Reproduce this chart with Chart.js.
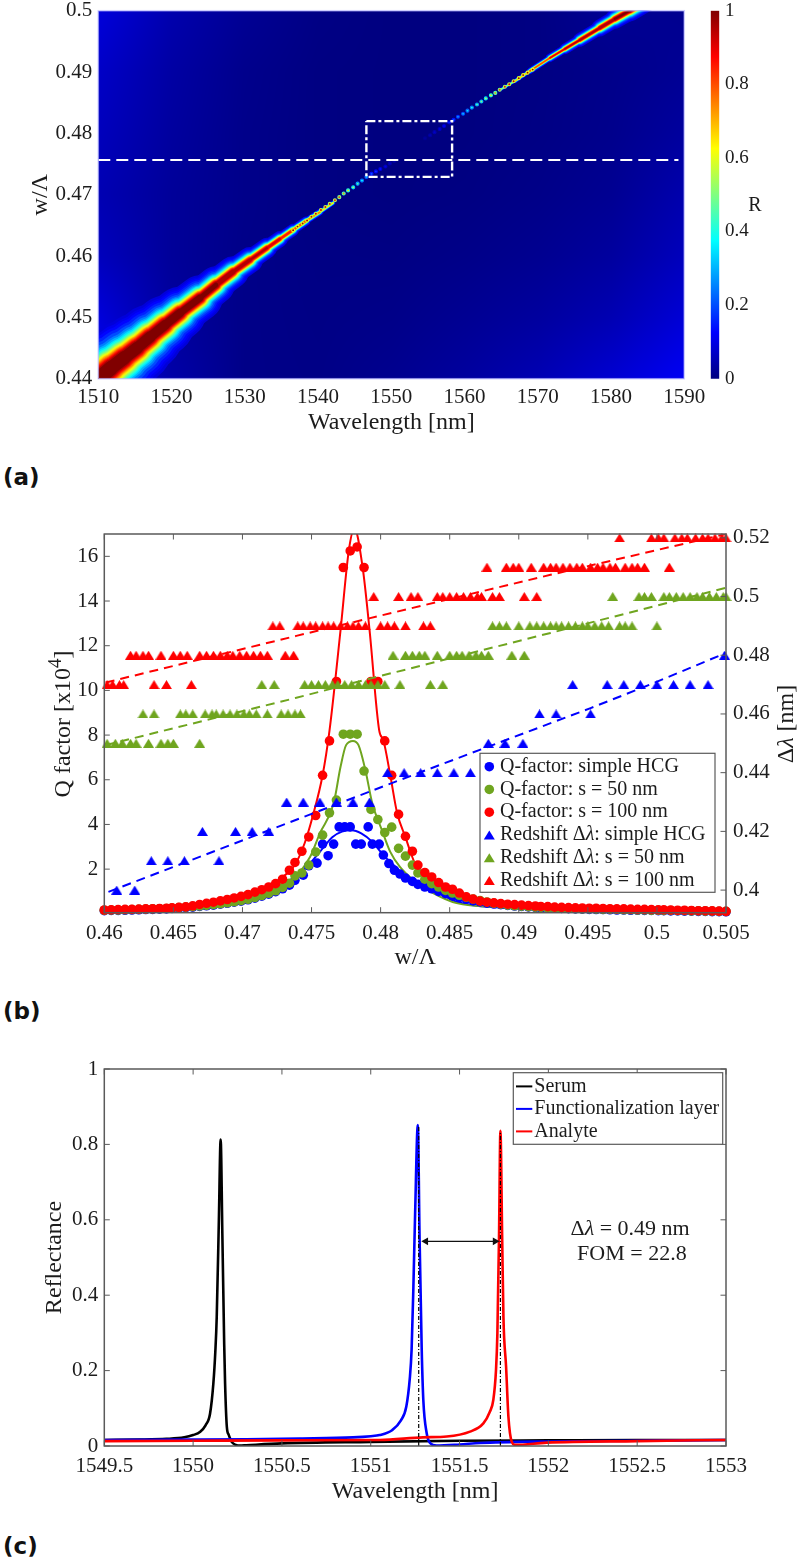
<!DOCTYPE html>
<html><head><meta charset="utf-8">
<script src="https://cdn.jsdelivr.net/npm/chart.js@4/dist/chart.umd.min.js"></script>
<style>
html,body{margin:0;padding:0;background:#fff;width:802px;height:1564px;overflow:hidden;position:relative}
canvas{position:absolute}
.tag{position:absolute;left:3px;font:bold 23px "DejaVu Sans",sans-serif;color:#111;line-height:28px}
</style></head>
<body>
<canvas id="heat" width="720" height="460" style="left:0;top:-20px"></canvas>
<canvas id="cbar" width="112" height="460" style="left:690px;top:-20px"></canvas>
<canvas id="qfac" width="802" height="470" style="left:0;top:510px"></canvas>
<canvas id="refl" width="802" height="470" style="left:0;top:1050px"></canvas>
<div class="tag" style="top:463px">(a)</div>
<div class="tag" style="top:997px">(b)</div>
<div class="tag" style="top:1532px">(c)</div>
<script>
// ---------- panel (a) ----------
const heatXTicks=[1510,1520,1530,1540,1550,1560,1570,1580,1590];
const heatXLabels=['1510','1520','1530','1540','1550','1560','1570','1580','1590'];
const heatYTicks=[0.44,0.45,0.46,0.47,0.48,0.49,0.5];
const heatYLabels=['0.44','0.45','0.46','0.47','0.48','0.49','0.5'];
const cbarTicks=[0,0.2,0.4,0.6,0.8,1];
const cbarLabels=['0','0.2','0.4','0.6','0.8','1'];
// background reflectance, rows are w/Λ (top to bottom), columns are wavelength
const bgWavelengths=[1510,1520,1530,1540,1550,1560,1570,1580,1590];
const bgRows=[0.5,0.49,0.48,0.47,0.46,0.45,0.44];
const bgGrid=[
 [.09,.045,.02,.005,0,0,.003,.02,.015],
 [.07,.035,.012,.002,0,0,.003,.01,.02],
 [.06,.03,.01,.002,0,0,.004,.012,.03],
 [.05,.025,.01,.002,0,.002,.008,.018,.045],
 [.06,.025,.008,.004,.003,.008,.016,.03,.06],
 [.09,.03,.008,.005,.008,.018,.03,.05,.085],
 [.12,.04,.008,.006,.015,.03,.05,.08,.115]];
// resonance ridge: centre, line width and peak height at each station
const ridgeLam=[1508.18,1510,1511.73,1513.51,1515.28,1517.06,1519.1,1521.15,1523.88,1526.07,1528.39,1530.71,1533.03,1534.8,1536.58,1538.35,1540.27,1542.04,1550,1564.84,1566.9,1568.92,1571.65,1573.69,1575.74,1578.47,1580.52,1582.57,1584.6];
const ridgeW=[.43832,.43995,.44174,.44338,.44501,.4468,.44876,.45071,.45316,.45528,.4574,.45935,.46131,.46278,.46425,.46571,.46718,.46865,.475,.48708,.48854,.49017,.4923,.49377,.49523,.49719,.49865,.5,.5014];
const ridgeFwhm=[33,33,31,29,27,25,22,20,16.5,14,12,9.5,7.5,6,4.5,3.5,2.5,1.8,0,1.2,1.6,2.2,3.2,4,5,6.5,7.5,8.5,9];
const ridgePeak=[1.12,1.12,1.12,1.12,1.1,1.1,1.1,1.08,1.06,1.03,1,.98,.96,.93,.9,.85,.8,.7,0,.6,.75,.85,.92,.96,.98,1,1.02,1.03,1.03];
const ridgeLevels=[.09,.11,.13,.16,.2,.25,.3,.35,.4,.45,.5,.55,.6,.65,.7,.75,.8,.85,.9,.95,1];
// aliased dots along the narrowest part of the resonance
const dotLam=[1536.6,1537.2,1537.9,1538.5,1539.1,1539.7,1540.4,1541,1541.6,1542.3,1542.9,1543.5,1544.1,1544.8,1545.4,1546,1546.6,1547.3,1547.9,1548.5,1549.2,1549.8,1550.4,1554.6,1555.3,1555.9,1556.6,1557.2,1557.9,1558.5,1559.1,1559.8,1560.4,1561,1561.7,1562.3,1562.9,1563.6,1564.2,1564.8,1565.5,1566.1,1566.7,1567.4,1568,1568.6,1569.3];
const dotW=[.4642,.4648,.4653,.4658,.4664,.4669,.4675,.468,.4685,.4691,.4696,.4702,.4707,.4712,.4718,.4723,.4729,.4734,.4738,.4742,.4746,.4751,.4755,.4792,.4797,.4802,.4807,.4812,.4818,.4822,.4827,.4832,.4837,.4842,.4847,.4852,.4857,.4862,.4866,.4871,.4876,.488,.4885,.489,.4895,.4899,.4904];
const dotR=[.97,.97,.95,.95,.93,.92,.92,.9,.88,.85,.8,.72,.65,.55,.45,.38,.32,.22,.18,.14,.1,.07,.05,.03,.05,.07,.09,.12,.16,.22,.27,.31,.35,.4,.45,.5,.56,.65,.72,.8,.85,.9,.93,.95,.96,.97,.97];
const cutLam=[1510,1589.2];
const cutW=[.47566,.47566];
const boxLam=[1546.6,1558.3,1558.3,1546.6,1546.6];
const boxW=[.482,.482,.4729,.4729,.482];

// ---------- panel (b) ----------
const qXTicks=[.46,.465,.47,.475,.48,.485,.49,.495,.5,.505];
const qXLabels=['0.46','0.465','0.47','0.475','0.48','0.485','0.49','0.495','0.5','0.505'];
const qYTicks=[2,4,6,8,10,12,14,16];
const qYLabels=['2','4','6','8','10','12','14','16'];
const shiftTicks=[.4,.42,.44,.46,.48,.5,.52];
const shiftLabels=['0.4','0.42','0.44','0.46','0.48','0.5','0.52'];
const qGrid=[.46,.4605,.461,.4615,.462,.4625,.463,.4635,.464,.4645,.4649,.4654,.4659,.4664,.4669,.4674,.4679,.4684,.4689,.4694,.4699,.4704,.4709,.4714,.4719,.4724,.4729,.4734,.4738,.4743,.4748,.4753,.4758,.4763,.4768,.4773,.4778,.4783,.4788,.4793,.4798,.4803,.4808,.4813,.4818,.4823,.4827,.4832,.4837,.4842,.4847,.4852,.4857,.4862,.4867,.4872,.4877,.4882,.4887,.4892,.4897,.4902,.4907,.4912,.4916,.4921,.4926,.4931,.4936,.4941,.4946,.4951,.4956,.4961,.4966,.4971,.4976,.4981,.4986,.4991,.4996,.5001,.5005,.501,.5015,.502,.5025,.503,.5035,.504,.5045,.505];
const qRed=[.17,.18,.19,.2,.2,.21,.22,.23,.24,.25,.27,.29,.31,.36,.42,.47,.52,.58,.64,.71,.78,.86,.97,1.08,1.2,1.35,1.55,1.95,2.3,2.8,3.44,4.4,6.2,7.74,10.4,15.5,16.24,16.42,15.5,10.4,10.4,7.74,6.2,4.45,3.47,2.8,2.18,1.85,1.65,1.4,1.2,1.1,.93,.76,.66,.57,.52,.49,.46,.43,.41,.39,.37,.35,.33,.32,.3,.29,.28,.27,.26,.25,.25,.24,.23,.22,.22,.21,.2,.2,.19,.18,.18,.17,.16,.16,.15,.14,.14,.13,.12,.11];
const qGreen=[.16,.17,.17,.18,.19,.2,.21,.22,.23,.24,.26,.28,.3,.32,.35,.38,.41,.45,.49,.54,.59,.65,.73,.82,.92,1.03,1.18,1.37,1.7,1.83,2.18,2.77,3.52,4.52,5.09,8.04,8.04,8.04,6.39,4.67,4.22,3.64,3.88,2.93,2.58,2.18,1.83,1.55,1.35,1.2,1.05,.93,.83,.74,.66,.59,.53,.47,.43,.39,.36,.34,.32,.3,.29,.27,.26,.25,.24,.23,.22,.22,.21,.2,.2,.19,.18,.18,.17,.17,.16,.16,.15,.15,.14,.14,.13,.13,.12,.12,.11,.11];
const qBlueLeft=[.14,.15,.15,.16,.17,.18,.19,.2,.21,.22,.24,.26,.28,.3,.33,.36,.39,.43,.47,.52,.57,.63,.7,.79,.88,.99,1.12,1.28,1.5];
const qBlueMidX=[.4744,.4748,.4754,.4758,.4762,.4766,.477,.4774,.4778,.4782,.4786,.4791,.4794,.4799,.4802,.4806,.481,.4814,.4818,.4823,.4827,.4832];
const qBlueMid=[1.73,2.15,2.27,3.12,2.6,3.12,3.89,3.89,3.89,3.12,3.12,3.89,3.12,3.12,2.63,2.25,1.95,1.78,1.6,1.45,1.32,1.2];
const qBlueRight=[1.12,1,.9,.8,.72,.65,.58,.53,.48,.44,.41,.38,.35,.33,.31,.29,.27,.26,.25,.24,.23,.22,.21,.2,.19,.19,.18,.17,.17,.16,.16,.15,.15,.14,.14,.13,.13,.12,.12,.11,.11,.1,.1,.09];
// fitted Q curves
const fitRedX=[.46,.4669,.47,.4718,.4729,.4738,.4745,.4751,.4758,.4763,.4771,.4777,.4781,.4787,.4792,.4799,.4802,.4807,.4812,.4818,.4822,.4826,.4836,.4847,.4865,.4886,.493,.505];
const fitRedY=[.17,.42,.75,1.15,1.64,2.2,3.16,4.4,6.2,8.2,12.7,16.27,17.25,15.5,12.7,8.2,7.77,6.2,4.5,3.43,2.7,2.1,1.64,1.2,.75,.43,.3,.12];
const fitGreenX=[.46,.4669,.4691,.4713,.4734,.4749,.4756,.4766,.4771,.4775,.478,.4784,.4789,.4794,.4801,.4807,.4814,.4824,.4838,.4855,.4886,.4959,.505];
const fitGreenY=[.15,.42,.62,.95,1.4,2.55,3.6,4.94,6.58,7.55,7.74,7.55,6.43,4.94,3.74,2.77,2.1,1.5,.93,.48,.3,.18,.1];
const fitBlueX=[.46,.4669,.4691,.4713,.4734,.4749,.4756,.4765,.4772,.4779,.4786,.4794,.4802,.4812,.4821,.4838,.4855,.4886,.4959,.505];
const fitBlueY=[.15,.4,.6,.9,1.35,2.27,2.77,3.43,3.68,3.74,3.6,3.22,2.63,2.03,1.5,1.06,.54,.28,.16,.09];
// redshift triangles, grouped by the value they sit on
const redAt47=[.4602,.4606,.4611,.4614,.4636,.4645,.4663];
const redAt48=[.4619,.4623,.4628,.4632,.4641,.465,.4655,.466,.4669,.4674,.4679,.4684,.4689,.4693,.4698,.4703,.4708,.4713,.4718,.4731,.4737];
const redAt49=[.4722,.4727,.474,.4744,.4749,.4753,.4758,.4762,.4766,.4771,.4776,.478,.4784,.4789,.48,.4805,.481,.4818,.4831,.4836];
const redAt50=[.4795,.4813,.4822,.4827,.4841,.4845,.485,.4855,.486,.4865,.487,.4873,.4881,.4886,.4904,.4913];
const redAt51=[.4877,.4891,.4896,.49,.4909,.4918,.4923,.4927,.4932,.4937,.4942,.4946,.4952,.4957,.4961,.4966,.497,.4977,.4982,.4986,.4991,.5009];
const redAt52=[.4973,.4996,.5001,.5005,.5013,.5018,.5022,.5028,.5033,.5037,.5042,.5047,.505];
const greenAt45=[.4602,.4608,.4613,.4619,.4623,.4632,.4641,.4646,.465,.4669];
const greenAt46=[.4628,.4636,.4655,.4659,.4664,.4673,.4678,.4681,.4686,.4691,.4696,.4701,.4705,.471,.4718,.4728,.4733,.4738,.4742];
const greenAt47=[.4714,.4723,.4745,.475,.4755,.476,.4765,.4769,.4774,.4779,.4784,.4789,.4793,.4798,.4803,.4814,.4836,.4845];
const greenAt48=[.4809,.4818,.4823,.4828,.4832,.4841,.485,.4855,.4859,.4864,.4869,.4873,.4878,.4895,.4904];
const greenAt49=[.4881,.4886,.4891,.49,.4908,.4913,.4918,.4923,.4927,.4931,.4936,.4941,.4946,.495,.4955,.496,.4965,.4973,.4977,.4982,.5];
const greenAt50=[.4968,.4987,.4991,.4996,.5005,.5009,.5014,.5019,.5024,.5029,.5033,.5038,.5043,.5048,.505];
const blueAt40=[.4609,.4622];
const blueAt41=[.4634,.4646,.4658,.4683];
const blueAt42=[.4671,.4695,.4707,.4719];
const blueAt43=[.4732,.4744,.4756,.4768,.478,.4792];
const blueAt44=[.4805,.4817,.4829,.4841,.4853,.4865];
const blueAt45=[.4878,.489,.4903];
const blueAt46=[.4915,.4927,.4952];
const blueAt47=[.4939,.4964,.4976,.4988,.5,.5012,.5024,.5037];
const blueAt48=[.5049];
// dashed linear fits of the redshift
const trendBlueX=[.4603,.4742,.4814,.4952,.4995,.505];
const trendBlueY=[.3994,.4245,.4375,.462,.47,.4808];
const trendGreenX=[.4601,.4739,.4797,.4923,.505];
const trendGreenY=[.4494,.4655,.4726,.4876,.503];
const trendRedX=[.4601,.4739,.4923,.505];
const trendRedY=[.4707,.4866,.5074,.5213];
const qLegendLabels=['Q-factor: simple HCG','Q-factor: s = 50 nm','Q-factor: s = 100 nm','Redshift Δλ: simple HCG','Redshift Δλ: s = 50 nm','Redshift Δλ: s = 100 nm'];

// ---------- panel (c) ----------
const rXTicks=[1549.5,1550,1550.5,1551,1551.5,1552,1552.5,1553];
const rXLabels=['1549.5','1550','1550.5','1551','1551.5','1552','1552.5','1553'];
const rYTicks=[0,.2,.4,.6,.8,1];
const rYLabels=['0','0.2','0.4','0.6','0.8','1'];
const serumX=[1549.5,1549.7,1549.85,1549.95,1550,1550.04,1550.07,1550.095,1550.114,1550.125,1550.133,1550.145,1550.155,1550.165,1550.175,1550.18,1550.19,1550.2,1550.217,1550.24,1550.264,1550.3,1550.5,1551,1551.5,1552,1552.5,1553];
const serumY=[.016,.017,.019,.023,.029,.038,.055,.085,.166,.25,.343,.6,.813,.55,.27,.166,.05,.03,.011,.003,.001,.002,.007,.011,.014,.015,.016,.016];
const funcX=[1549.5,1550,1550.3,1550.6,1550.9,1551,1551.05,1551.12,1551.17,1551.2,1551.22,1551.23,1551.24,1551.25,1551.265,1551.275,1551.287,1551.296,1551.315,1551.334,1551.37,1551.5,1551.615,1552,1552.5,1553];
const funcY=[.016,.017,.018,.02,.023,.026,.029,.042,.068,.104,.18,.255,.42,.62,.851,.55,.255,.122,.034,.008,.001,.004,.008,.012,.014,.016];
const analyteX=[1549.5,1550,1550.5,1551.052,1551.294,1551.428,1551.559,1551.634,1551.67,1551.69,1551.705,1551.713,1551.722,1551.73,1551.74,1551.747,1551.762,1551.775,1551.794,1551.813,1551.991,1552.5,1553];
const analyteY=[.013,.014,.015,.016,.023,.025,.038,.06,.09,.122,.2,.3,.55,.836,.55,.343,.21,.078,.011,.003,.009,.013,.016];
const guideFuncX=[1551.27,1551.27], guideFuncY=[0,.85];
const guideAnalyteX=[1551.73,1551.73], guideAnalyteY=[0,.835];
const arrowX=[1551.31,1551.7], arrowY=[.543,.543];
const rLegendLabels=['Serum','Functionalization layer','Analyte'];
const noteLines=['Δλ = 0.49 nm','FOM = 22.8'];
const noteX=[1552.46,1552.47], noteY=[.5756,.509];

// ---------- helpers ----------
const SERIF='"Liberation Serif",serif', INK='#1c1c1c', AXIS='#5a5a5a';
const RED='#ff0000', GREEN='#6fa51f', BLUE='#0000ff';
Chart.defaults.font.family=SERIF; Chart.defaults.color=INK; Chart.defaults.animation=false;
const jetStops=[[0,0,0,128],[.125,0,0,255],[.375,0,255,255],[.625,255,255,0],[.875,255,0,0],[1,128,0,0]];
function jetRGB(v){v=Math.max(0,Math.min(1,v));
 for(let i=1;i<jetStops.length;i++){const a=jetStops[i-1],b=jetStops[i];
  if(v<=b[0]){const t=(v-a[0])/(b[0]-a[0]);return [a[1]+t*(b[1]-a[1]),a[2]+t*(b[2]-a[2]),a[3]+t*(b[3]-a[3])];}}
 return [128,0,0];}
function jet(v){const c=jetRGB(v);return `rgb(${c[0]|0},${c[1]|0},${c[2]|0})`;}
const pts=(xs,ys)=>xs.map((x,i)=>({x,y:ys[i]}));
const flat=(xs,y)=>xs.map(x=>({x,y}));
function fixedTicks(values,labels,size,pad,extra){return Object.assign({
  afterBuildTicks:s=>{s.ticks=values.map(value=>({value}));},
  ticks:{autoSkip:false,maxRotation:0,minRotation:0,padding:pad,font:{size},color:INK,callback:(v,i)=>labels[i]},
  grid:{display:false,drawTicks:false},border:{display:false}},extra);}
function runs(ctx,text,x,y,size,align){ // text with an italic lambda
  const parts=text.split(/(λ)/).filter(Boolean);
  const font=p=>(p==='λ'?'italic ':'')+size+'px '+SERIF;
  let w=0; parts.forEach(p=>{ctx.font=font(p);w+=ctx.measureText(p).width;});
  let cx=align==='center'?x-w/2:x; ctx.textAlign='left';ctx.textBaseline='middle';
  parts.forEach(p=>{ctx.font=font(p);ctx.fillText(p,cx,y);cx+=ctx.measureText(p).width;});
}
function triMark(col){const c=document.createElement('canvas');c.width=11;c.height=9;const x=c.getContext('2d');x.fillStyle=col;x.beginPath();x.moveTo(5.5,0);x.lineTo(11,9);x.lineTo(0,9);x.closePath();x.fill();return c;}
const frame=(mirrorX,mirrorY,col,ticks=true)=>({id:'frame',afterDatasetsDraw(c){
  const {ctx,chartArea:a}=c;ctx.save();ctx.strokeStyle=col;ctx.lineWidth=1.5;
  ctx.strokeRect(a.left,a.top,a.width,a.height);
  if(ticks){ctx.lineWidth=1;ctx.beginPath();const L=5.5;
  Object.values(c.scales).forEach(s=>{if(!s.options.display)return;s.ticks.forEach(t=>{const p=s.getPixelForValue(t.value);
    if(s.isHorizontal()){ctx.moveTo(p,a.bottom);ctx.lineTo(p,a.bottom-L);if(mirrorX){ctx.moveTo(p,a.top);ctx.lineTo(p,a.top+L);}}
    else if(s.position==='left'){ctx.moveTo(a.left,p);ctx.lineTo(a.left+L,p);if(mirrorY){ctx.moveTo(a.right,p);ctx.lineTo(a.right-L,p);}}
    else{ctx.moveTo(a.right,p);ctx.lineTo(a.right-L,p);}});});ctx.stroke();}
  ctx.restore();}});

// ---------- panel (a) chart ----------
const heatBg={id:'heatBg',beforeDatasetsDraw(c){
  const a=c.chartArea,xS=c.scales.x,yS=c.scales.y,W=Math.ceil(a.width),H=Math.ceil(a.height);
  const off=document.createElement('canvas');off.width=W;off.height=H;const oc=off.getContext('2d'),img=oc.createImageData(W,H);
  const nc=bgWavelengths.length,nr=bgRows.length,dxG=bgWavelengths[1]-bgWavelengths[0],dyG=bgRows[0]-bgRows[1];
  for(let j=0;j<H;j++){const rowV=yS.getValueForPixel(a.top+j+.5),fr=Math.min(nr-1.001,Math.max(0,(bgRows[0]-rowV)/dyG)),r0=fr|0,tr=fr-r0;
   for(let i=0;i<W;i++){const colV=xS.getValueForPixel(a.left+i+.5),fc=Math.min(nc-1.001,Math.max(0,(colV-bgWavelengths[0])/dxG)),c0=fc|0,tc=fc-c0;
    const v=(1-tr)*((1-tc)*bgGrid[r0][c0]+tc*bgGrid[r0][c0+1])+tr*((1-tc)*bgGrid[r0+1][c0]+tc*bgGrid[r0+1][c0+1]);
    const rgb=jetRGB(v),k=(j*W+i)*4;img.data[k]=rgb[0];img.data[k+1]=rgb[1];img.data[k+2]=rgb[2];img.data[k+3]=255;}}
  oc.putImageData(img,0,0);c.ctx.drawImage(off,a.left,a.top,a.width,a.height);}};
const ridgeSets=ridgeLevels.map((L,n)=>{
  const widths=ridgeFwhm.map((f,i)=>ridgePeak[i]>L?f*Math.pow(ridgePeak[i]/L-1,.38):0);
  return {data:ridgeLam.map((x,i)=>({x,y:widths[i]>.25?ridgeW[i]:NaN})),showLine:true,pointRadius:0,borderColor:jet(L),borderWidth:1,borderCapStyle:'round',
    segment:{borderWidth:s=>(widths[s.p0DataIndex]+widths[s.p1DataIndex])/2},order:200-n};});
new Chart('heat',{type:'scatter',plugins:[heatBg,frame(false,false,'rgba(190,190,255,.75)',false)],data:{datasets:[...ridgeSets,
  {data:pts(dotLam,dotW),pointRadius:1.5,pointBorderWidth:1.1,pointBackgroundColor:dotR.map(jet),pointBorderColor:dotR.map(v=>jet(v*.62)),order:5},
  {data:pts(cutLam,cutW),showLine:true,pointRadius:0,borderColor:'#fff',borderWidth:2.2,borderDash:[12,6],order:2},
  {data:pts(boxLam,boxW),showLine:true,pointRadius:0,borderColor:'#fff',borderWidth:2.4,borderDash:[9,3,3,3],order:1}]},
 options:{responsive:false,devicePixelRatio:1,layout:{padding:{top:30.7,right:35.7}},plugins:{legend:{display:false},tooltip:{enabled:false}},
  scales:{x:fixedTicks(heatXTicks,heatXLabels,21,6,{type:'linear',min:1510,max:1590,afterFit:s=>{s.height=61.3;},
     title:{display:true,text:'Wavelength [nm]',font:{size:24},color:INK,padding:{top:0,bottom:2.6}}}),
   y:fixedTicks(heatYTicks,heatYLabels,21,6,{type:'linear',min:.44,max:.5,afterFit:s=>{s.width=98.3;},
     title:{display:true,text:'w/Λ',font:{size:24},color:INK,padding:{top:26.6,bottom:0}}})}}});
const cbarName={id:'cbarName',afterDraw(c){const x=c.ctx;x.save();x.fillStyle=INK;runs(x,'R',65,226,20,'center');x.restore();}};
new Chart('cbar',{type:'bar',plugins:[cbarName],data:{labels:['R'],datasets:[{data:[[0,1]],barPercentage:1,categoryPercentage:1,
   backgroundColor:s=>{const a=s.chart.chartArea;if(!a)return '#00f';const g=s.chart.ctx.createLinearGradient(0,a.bottom,0,a.top);jetStops.forEach(t=>g.addColorStop(t[0],`rgb(${t[1]},${t[2]},${t[3]})`));return g;}}]},
 options:{responsive:false,devicePixelRatio:1,layout:{padding:{top:30.7,bottom:61.3,left:20.7}},plugins:{legend:{display:false},tooltip:{enabled:false}},
  scales:{x:{display:false},y:fixedTicks(cbarTicks,cbarLabels,19,5.7,{position:'right',min:0,max:1,afterFit:s=>{s.width=82.7;}})}}});

// ---------- panel (b) chart ----------
const lineSet=(xs,ys,col,order)=>({data:pts(xs,ys),showLine:true,pointRadius:0,borderColor:col,borderWidth:2,cubicInterpolationMode:'monotone',order,yAxisID:'y'});
const dotSet=(xs,ys,col,order,label)=>({label,data:pts(xs,ys),pointRadius:4.8,pointBorderWidth:0,pointBackgroundColor:col,order,yAxisID:'y',clip:false});
const triSet=(groups,col,order,label)=>({label,data:groups.flatMap(g=>flat(g[0],g[1])),pointStyle:triMark(col),pointRadius:5.8,pointBorderWidth:0,order,yAxisID:'y1',clip:false});
const dashSet=(xs,ys,col,order)=>({data:pts(xs,ys),showLine:true,pointRadius:0,borderColor:col,borderWidth:2,borderDash:[9,6],order,yAxisID:'y1'});
const qLegend={id:'qLegend',afterDraw(c){const x=c.ctx;x.save();
  const bx=480,by=243.3,bw=235,bh=139;x.fillStyle='#fff';x.strokeStyle=AXIS;x.lineWidth=1.2;x.fillRect(bx,by,bw,bh);x.strokeRect(bx,by,bw,bh);
  const cols=[BLUE,GREEN,RED,BLUE,GREEN,RED];
  qLegendLabels.forEach((t,i)=>{const yy=by+13.4+i*22.75;x.fillStyle=cols[i];x.beginPath();
   if(i<3)x.arc(489.3,yy,4.8,0,Math.PI*2);else{x.moveTo(489.3,yy-4.5);x.lineTo(494.8,yy+4.5);x.lineTo(483.8,yy+4.5);x.closePath();}
   x.fill();x.fillStyle=INK;runs(x,t,500,yy,20,'left');});
  // left title with a full-size raised exponent
  x.save();x.translate(62,214);x.rotate(-Math.PI/2);x.fillStyle=INK;x.textBaseline='alphabetic';x.textAlign='left';
  const a='Q factor [x10',b='4',d=']';x.font='24px '+SERIF;const wa=x.measureText(a).width,wd=x.measureText(d).width;x.font='19px '+SERIF;const wb=x.measureText(b).width;
  const sx=-(wa+wb+wd)/2;x.font='24px '+SERIF;x.fillText(a,sx,8);x.font='19px '+SERIF;x.fillText(b,sx+wa,-1);x.font='24px '+SERIF;x.fillText(d,sx+wa+wb,8);x.restore();
  // right hand axis title reads upwards
  x.translate(787,214);x.rotate(-Math.PI/2);x.fillStyle=INK;runs(x,'Δλ [nm]',0,0,24,'center');
  x.restore();}};
new Chart('qfac',{type:'scatter',plugins:[frame(true,false,AXIS),qLegend],data:{datasets:[
  lineSet(fitBlueX,fitBlueY,BLUE,53),lineSet(fitGreenX,fitGreenY,GREEN,52),lineSet(fitRedX,fitRedY,RED,51),
  dotSet(qGrid.slice(0,29).concat(qBlueMidX,qGrid.slice(48)),qBlueLeft.concat(qBlueMid,qBlueRight),BLUE,43,qLegendLabels[0]),
  dotSet(qGrid,qGreen,GREEN,42,qLegendLabels[1]),
  dotSet(qGrid,qRed,RED,41,qLegendLabels[2]),
  triSet([[blueAt40,.4],[blueAt41,.41],[blueAt42,.42],[blueAt43,.43],[blueAt44,.44],[blueAt45,.45],[blueAt46,.46],[blueAt47,.47],[blueAt48,.48]],BLUE,33,qLegendLabels[3]),
  triSet([[greenAt45,.45],[greenAt46,.46],[greenAt47,.47],[greenAt48,.48],[greenAt49,.49],[greenAt50,.5]],GREEN,32,qLegendLabels[4]),
  triSet([[redAt47,.47],[redAt48,.48],[redAt49,.49],[redAt50,.5],[redAt51,.51],[redAt52,.52]],RED,31,qLegendLabels[5]),
  dashSet(trendBlueX,trendBlueY,BLUE,23),dashSet(trendGreenX,trendGreenY,GREEN,22),dashSet(trendRedX,trendRedY,RED,21)]},
 options:{responsive:false,devicePixelRatio:1,layout:{padding:{top:24}},plugins:{legend:{display:false},tooltip:{enabled:false}},
  scales:{x:fixedTicks(qXTicks,qXLabels,21,8,{type:'linear',min:.46,max:.505,afterFit:s=>{s.height=67.3;},
     title:{display:true,text:'w/Λ',font:{size:24},color:INK,padding:{top:0,bottom:7.6}}}),
   y:fixedTicks(qYTicks,qYLabels,21,6,{type:'linear',min:.05,max:17,position:'left',afterFit:s=>{s.width=104.3;}}),
   y1:fixedTicks(shiftTicks,shiftLabels,21,7,{type:'linear',min:.3923,max:.5213,position:'right',afterFit:s=>{s.width=76;}})}}});

// ---------- panel (c) chart ----------
const specSet=(xs,ys,col,order,label)=>({label,data:pts(xs,ys),showLine:true,pointRadius:0,borderColor:col,borderWidth:2.6,cubicInterpolationMode:'monotone',order});
const guideSet=(xs,ys)=>({data:pts(xs,ys),showLine:true,pointRadius:0,borderColor:'#000',borderWidth:1.2,borderDash:[4,2,1,2],order:3});
const rNotes={id:'rNotes',afterDraw(c){const x=c.ctx,sx=c.scales.x,sy=c.scales.y;x.save();
  const bx=513.3,by=22.7,bw=209.4,bh=71.6,cols=[ '#000',BLUE,RED];
  x.fillStyle='#fff';x.strokeStyle=AXIS;x.lineWidth=1.2;x.fillRect(bx,by,bw,bh);x.strokeRect(bx,by,bw,bh);
  rLegendLabels.forEach((t,i)=>{const yy=by+13.7+i*22.5;x.strokeStyle=cols[i];x.lineWidth=2;x.beginPath();x.moveTo(516,yy);x.lineTo(532.3,yy);x.stroke();
    x.fillStyle=INK;runs(x,t,534.3,yy,20,'left');});
  x.fillStyle=INK;noteLines.forEach((t,i)=>runs(x,t,sx.getPixelForValue(noteX[i]),sy.getPixelForValue(noteY[i]),22,'center'));
  x.restore();}};
new Chart('refl',{type:'scatter',plugins:[frame(true,true,AXIS),rNotes],data:{datasets:[
  specSet(serumX,serumY,'#000',8,rLegendLabels[0]),specSet(funcX,funcY,BLUE,7,rLegendLabels[1]),specSet(analyteX,analyteY,RED,6,rLegendLabels[2]),
  guideSet(guideFuncX,guideFuncY),guideSet(guideAnalyteX,guideAnalyteY),
  {data:pts(arrowX,arrowY),showLine:true,borderColor:'#111',borderWidth:1.3,pointStyle:'triangle',pointRadius:4.5,pointRotation:[-90,90],pointBackgroundColor:'#111',pointBorderWidth:0,order:2}]},
 options:{responsive:false,devicePixelRatio:1,layout:{padding:{top:19,right:76}},plugins:{legend:{display:false},tooltip:{enabled:false}},
  scales:{x:fixedTicks(rXTicks,rXLabels,21,8,{type:'linear',min:1549.5,max:1553,afterFit:s=>{s.height=74;},
     title:{display:true,text:'Wavelength [nm]',font:{size:24},color:INK,padding:{top:0,bottom:13.9}}}),
   y:fixedTicks(rYTicks,rYLabels,21,6,{type:'linear',min:0,max:1,position:'left',afterFit:s=>{s.width=104.3;},
     title:{display:true,text:'Reflectance',font:{size:24},color:INK,padding:{top:40.6,bottom:0}}})}}});
</script>
</body></html>
